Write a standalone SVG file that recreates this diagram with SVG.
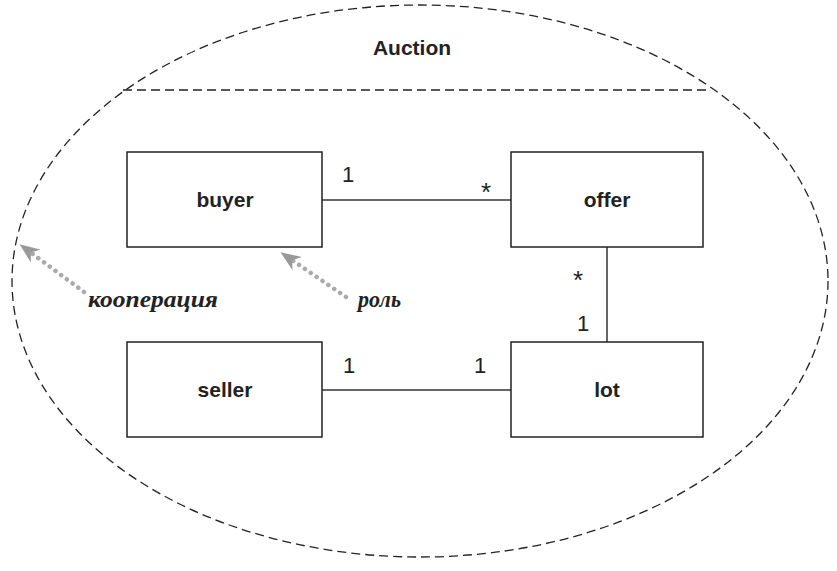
<svg xmlns="http://www.w3.org/2000/svg" width="837" height="571" viewBox="0 0 837 571">
<style>
.box{fill:#fff;stroke:#222;stroke-width:1.5}
.name{font-family:"Liberation Sans",Arial,sans-serif;font-weight:bold;font-size:21px;fill:#222;text-anchor:middle}
.mult{font-family:"Liberation Sans",Arial,sans-serif;font-size:22px;fill:#222}
.star{font-family:"Liberation Sans",Arial,sans-serif;font-size:26px;fill:#222}
.note{font-family:"Liberation Serif","DejaVu Serif",serif;font-style:italic;font-weight:bold;font-size:23px;fill:#222}
.line{stroke:#333;stroke-width:1.5;fill:none}
.dash{stroke:#222;stroke-width:1.3;fill:none;stroke-dasharray:9 5}
.dot{stroke:#aaa;stroke-width:4.5;fill:none;stroke-dasharray:0.1 7;stroke-linecap:round}
</style>
<defs>
<marker id="ah" viewBox="0 0 20 16" refX="17" refY="8" markerWidth="20" markerHeight="16" markerUnits="userSpaceOnUse" orient="auto">
<path d="M20,8 L0,0 L6,8 L0,16 Z" fill="#999"/>
</marker>
</defs>
<g id="collaboration">
<ellipse cx="420" cy="281" rx="408" ry="276" class="dash"/>
<line x1="123" y1="90" x2="709" y2="90" class="dash"/>
<text x="412" y="55" class="name">Auction</text>
</g>
<g id="connectors">
<line x1="322" y1="200" x2="511" y2="200" class="line"/>
<line x1="607" y1="247" x2="607" y2="342" class="line"/>
<line x1="322" y1="390" x2="511" y2="390" class="line"/>
<text x="342" y="182" class="mult">1</text>
<text x="481" y="201" class="star">*</text>
<text x="573" y="289" class="star">*</text>
<text x="577" y="331" class="mult">1</text>
<text x="343" y="373" class="mult">1</text>
<text x="474" y="373" class="mult">1</text>
<path d="M84,292 L22,246" class="dot" marker-end="url(#ah)"/>
<path d="M346,297 L283,254" class="dot" marker-end="url(#ah)"/>
</g>
<g id="buyer"><rect x="127" y="152" width="195" height="95" class="box"/><text x="225" y="207" class="name">buyer</text></g>
<g id="offer"><rect x="511" y="152" width="192" height="95" class="box"/><text x="607" y="207" class="name">offer</text></g>
<g id="seller"><rect x="127" y="342" width="195" height="95" class="box"/><text x="225" y="397" class="name">seller</text></g>
<g id="lot"><rect x="511" y="342" width="192" height="95" class="box"/><text x="607" y="397" class="name">lot</text></g>
<g id="notes">
<text x="88" y="307" class="note" textLength="130" lengthAdjust="spacingAndGlyphs">кооперация</text>
<text x="358" y="307" class="note" textLength="43" lengthAdjust="spacingAndGlyphs">роль</text>
</g>
</svg>
